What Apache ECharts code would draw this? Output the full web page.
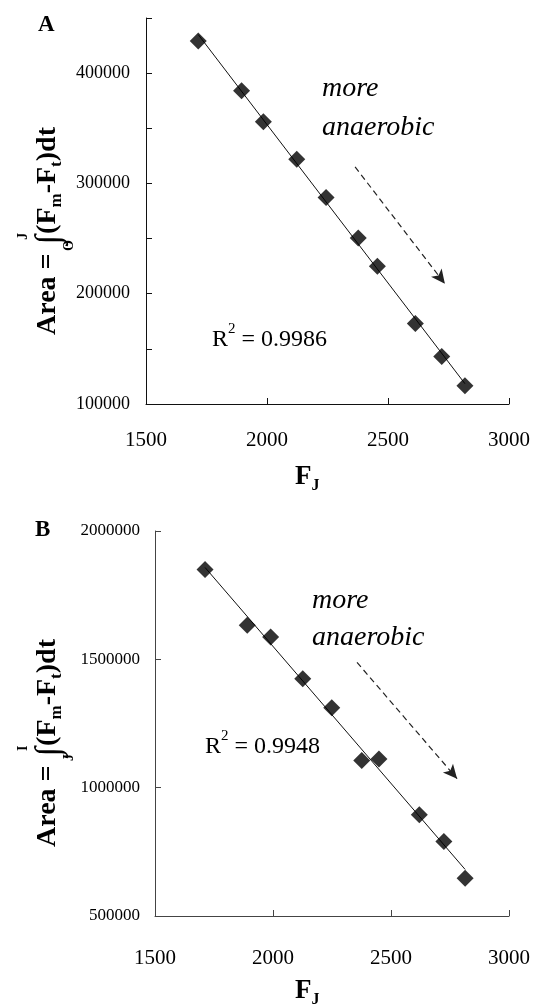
<!DOCTYPE html>
<html><head><meta charset="utf-8">
<script src="https://cdn.jsdelivr.net/npm/echarts@6/dist/echarts.min.js"></script>
<style>html,body{margin:0;padding:0;background:#fff}#c{width:536px;height:1008px}</style>
</head><body><div id="c"></div>
<script>
// ---------- data ----------
const xTicks = [1500, 2000, 2500, 3000];
const yTicksA = [100000, 200000, 300000, 400000];
const yMaxA = 450000;
const yMinorA = 50000;
const yTicksB = [500000, 1000000, 1500000, 2000000];

const fjA   = [1716, 1895, 1985, 2123, 2244, 2377, 2456, 2613, 2722, 2818];
const areaA = [429200, 384000, 356000, 322000, 287300, 250600, 225000, 172900, 143100, 116500];
const fjB   = [1712, 1891, 1990, 2126, 2249, 2376, 2449, 2620, 2724, 2814];
const areaB = [1850000, 1632700, 1587000, 1424500, 1311000, 1105400, 1112000, 894500, 790200, 647000];

const arrowA = [[2364, 315000], [2735, 209000]];
const arrowB = [[2356, 1488000], [2780, 1035000]];
const r2A = '0.9986';
const r2B = '0.9948';
const noteWords = ['more', 'anaerobic'];

// ---------- helpers ----------
const FAM = '"Liberation Serif","Times New Roman",serif';
const mctx = document.createElement('canvas').getContext('2d');
function fontStr(s, b, i) { return (i ? 'italic ' : '') + (b ? 'bold ' : '') + s + 'px ' + FAM; }
function tw(t, s, b, i) { mctx.font = fontStr(s, b, i); return mctx.measureText(t).width; }

function seq(parts) {
  let x = 0; const children = []; const marks = {};
  parts.forEach(p => {
    const w = tw(p.t, p.s, p.b, p.i);
    children.push({ type: 'text', x: x, y: (p.dy || 0) - 0.3375 * p.s,
      style: { text: p.t, font: fontStr(p.s, p.b, p.i), fill: '#000', align: 'left', verticalAlign: 'middle' } });
    if (p.key) marks[p.key] = { x: x, w: w };
    x += w + (p.gap || 0);
  });
  return { children, width: x, marks };
}

function fitLine(xs, ys) {
  const n = xs.length;
  const mx = xs.reduce((a, b) => a + b, 0) / n, my = ys.reduce((a, b) => a + b, 0) / n;
  let sxy = 0, sxx = 0;
  for (let k = 0; k < n; k++) { sxy += (xs[k] - mx) * (ys[k] - my); sxx += (xs[k] - mx) ** 2; }
  const b = sxy / sxx, a = my - b * mx;
  const x0 = Math.min(...xs), x1 = Math.max(...xs);
  return [[x0, a + b * x0], [x1, a + b * x1]];
}

function yTitle(cy, baseX, upper, lower) {
  const S = 28, SUB = 17, LIM = 14;
  const r = seq([
    { t: 'Area = ', s: S, b: true, gap: 2 },
    { t: '\u222B', s: S * 1.25, b: false, dy: 0.16 * S, key: 'int', gap: 1 },
    { t: '(F', s: S, b: true },
    { t: 'm', s: SUB, b: true, dy: 0.2 * S },
    { t: '-F', s: S, b: true },
    { t: 't', s: SUB, b: true, dy: 0.2 * S },
    { t: ')dt', s: S, b: true }
  ]);
  const I = r.marks.int;
  r.children.push({ type: 'text', x: I.x + I.w * 0.85, y: -29 - 0.3375 * LIM,
    style: { text: upper, font: fontStr(LIM, true), fill: '#000', align: 'center', verticalAlign: 'middle' } });
  r.children.push({ type: 'text', x: I.x - 1, y: 17 - 0.3375 * LIM,
    style: { text: lower, font: fontStr(LIM, true), fill: '#000', align: 'center', verticalAlign: 'middle' } });
  return { type: 'group', x: baseX, y: cy + r.width / 2, rotation: Math.PI / 2, children: r.children };
}

function xTitle(left, baseY) {
  const r = seq([{ t: 'F', s: 27, b: true }, { t: 'J', s: 16, b: true, dy: 5 }]);
  return { type: 'group', x: left, y: baseY, children: r.children };
}
function r2Text(left, baseY, val) {
  const r = seq([{ t: 'R', s: 24 }, { t: '2', s: 15, dy: -14 }, { t: ' = ' + val, s: 24 }]);
  return { type: 'group', x: left, y: baseY, children: r.children };
}
function note(left, base1, base2) {
  return { type: 'group', x: left, y: 0, children: [
    { type: 'text', x: 0, y: base1 - 0.3375 * 28, style: { text: noteWords[0], font: fontStr(28, false, true), fill: '#000', verticalAlign: 'middle' } },
    { type: 'text', x: 0, y: base2 - 0.3375 * 28, style: { text: noteWords[1], font: fontStr(28, false, true), fill: '#000', verticalAlign: 'middle' } }
  ] };
}
function panelLabel(left, cy, t) {
  return { type: 'text', x: left, y: cy, style: { text: t, font: fontStr(23, true), fill: '#000', verticalAlign: 'middle' } };
}

// ---------- chart ----------
const axisCommon = (color) => ({
  axisLine: { show: true, onZero: false, lineStyle: { color: color, width: 1 } },
  axisTick: { show: true, inside: true, length: 6, lineStyle: { color: color, width: 1 } },
  splitLine: { show: false }
});

function xAxisFor(gi, color, margin) {
  return Object.assign({
    type: 'value', gridIndex: gi, min: xTicks[0], max: xTicks[xTicks.length - 1],
    interval: xTicks[1] - xTicks[0],
    axisLabel: { color: '#000', fontFamily: FAM, fontSize: 21, margin: margin, showMinLabel: true, showMaxLabel: true,
      formatter: v => String(v) }
  }, axisCommon(color));
}

const lineA = fitLine(fjA, areaA);
const lineB = fitLine(fjB, areaB);

function arrowML(arr) {
  return {
    silent: true, animation: false, symbol: ['none', 'arrow'], symbolSize: [10, 14],
    lineStyle: { type: [6, 4], color: '#222', width: 1.2 },
    label: { show: false }, emphasis: { disabled: true },
    data: [[{ coord: arr[0] }, { coord: arr[1] }]]
  };
}

const option = {
  animation: false,
  backgroundColor: '#fff',
  grid: [
    { left: 146, top: 18, width: 363, height: 386 },
    { left: 155, top: 531, width: 354, height: 385 }
  ],
  xAxis: [xAxisFor(0, '#111', 26), xAxisFor(1, '#444', 32)],
  yAxis: [
    Object.assign({
      type: 'value', gridIndex: 0, min: yTicksA[0], max: yMaxA, interval: yMinorA,
      axisLabel: { color: '#000', fontFamily: FAM, fontSize: 18, margin: 16,
        formatter: v => (yTicksA.indexOf(v) >= 0 ? String(v) : '') }
    }, axisCommon('#111')),
    Object.assign({
      type: 'value', gridIndex: 1, min: yTicksB[0], max: yTicksB[yTicksB.length - 1],
      interval: yTicksB[1] - yTicksB[0],
      axisLabel: { color: '#000', fontFamily: FAM, fontSize: 17, margin: 15, formatter: v => String(v) }
    }, axisCommon('#444'))
  ],
  series: [
    { type: 'line', xAxisIndex: 0, yAxisIndex: 0, data: lineA, showSymbol: false, silent: true,
      lineStyle: { color: '#111', width: 1 }, z: 2, markLine: arrowML(arrowA) },
    { type: 'scatter', xAxisIndex: 0, yAxisIndex: 0, data: fjA.map((x, k) => [x, areaA[k]]),
      symbol: 'diamond', symbolSize: 17, itemStyle: { color: '#000' }, z: 3 },
    { type: 'line', xAxisIndex: 1, yAxisIndex: 1, data: lineB, showSymbol: false, silent: true,
      lineStyle: { color: '#111', width: 1 }, z: 2, markLine: arrowML(arrowB) },
    { type: 'scatter', xAxisIndex: 1, yAxisIndex: 1, data: fjB.map((x, k) => [x, areaB[k]]),
      symbol: 'diamond', symbolSize: 17, itemStyle: { color: '#000' }, z: 3 }
  ],
  graphic: [
    panelLabel(38, 25, 'A'),
    panelLabel(35, 530, 'B'),
    yTitle(231, 57, 'J', 'O'),
    yTitle(743, 57, 'I', 'J'),
    xTitle(295, 486),
    xTitle(295, 1000),
    note(322, 98, 137),
    note(312, 610, 647),
    r2Text(212, 348, r2A),
    r2Text(205, 755, r2B)
  ]
};

const chart = echarts.init(document.getElementById('c'), null, { renderer: 'canvas' });
chart.setOption(option);
</script>
</body></html>
